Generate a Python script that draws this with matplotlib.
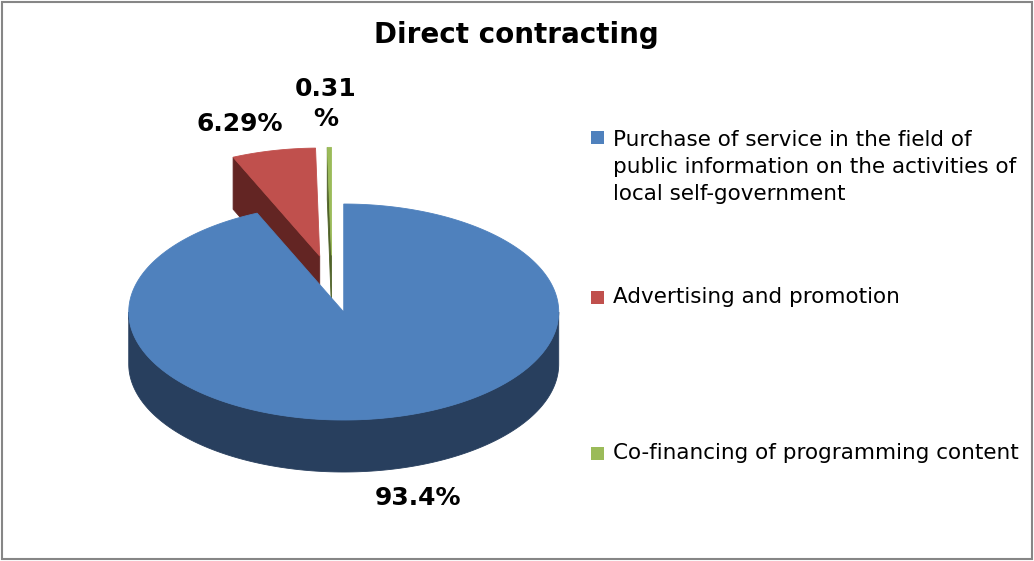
import numpy as np
import matplotlib.pyplot as plt
from matplotlib.patches import Polygon, Rectangle

# Direct contracting, share of spending by purpose (%)
categories = ['Purchase of service in the field of\npublic information on the activities of\nlocal self-government',
              'Advertising and promotion',
              'Co-financing of programming content']
shares = [93.4, 6.29, 0.31]
value_labels = ['93.4%', '6.29%', '0.31\n%']

top_colors = ['#4F81BD', '#C0504D', '#9BBB59']
side_colors = ['#283F5E', '#632523', '#4F6228']

# layout in pixels, y grows downward
W, H = 1034, 561
CX, CY = 332, 284          # centre of the unexploded pie
RX, RY = 215, 108          # ellipse radii of the top face
DEPTH = 52                 # thickness of the pie
EXPLODE = 0.265            # slice offset as a fraction of the radius
label_xy = [(418, 498), (240, 124), (326, 104)]
legend_text_y = [167, 297, 453]
legend_box_y = [137.5, 297, 453]

fig = plt.figure(figsize=(W / 100, H / 100), dpi=100)
ax = fig.add_axes([0, 0, 1, 1])
ax.set_xlim(0, W)
ax.set_ylim(H, 0)
ax.axis('off')


def rim(t, ox, oy, drop=0.0):
    t = np.atleast_1d(t)
    return np.column_stack([CX + ox + RX * np.sin(t), CY + oy - RY * np.cos(t) + drop])


frac = np.array(shares) / np.sum(shares)
edges = np.concatenate([[0.0], np.cumsum(frac)]) * 2 * np.pi

slices = []
for i in range(len(shares)):
    a, b = edges[i], edges[i + 1]
    mid = (a + b) / 2
    ox = EXPLODE * RX * np.sin(mid)
    oy = -EXPLODE * RY * np.cos(mid)
    slices.append((oy, i, a, b, ox))

# paint the slices from back to front
for oy, i, a, b, ox in sorted(slices):
    apex = np.array([[CX + ox, CY + oy]])
    apex_low = apex + [0, DEPTH]
    n = max(3, int(np.degrees(b - a)) + 2)
    kw = dict(closed=True, lw=0.6, zorder=2)

    # radial cut faces facing the viewer
    if np.sin(a) < -1e-9:
        quad = np.vstack([apex, rim(a, ox, oy), rim(a, ox, oy, DEPTH), apex_low])
        ax.add_patch(Polygon(quad, fc=side_colors[i], ec=side_colors[i], **kw))
    if np.sin(b) > 1e-9:
        quad = np.vstack([apex, rim(b, ox, oy), rim(b, ox, oy, DEPTH), apex_low])
        ax.add_patch(Polygon(quad, fc=side_colors[i], ec=side_colors[i], **kw))

    # outer wall on the front half of the ellipse
    lo, hi = max(a, np.pi / 2), min(b, 3 * np.pi / 2)
    if hi > lo:
        t = np.linspace(lo, hi, max(3, int(np.degrees(hi - lo)) + 2))
        wall = np.vstack([rim(t, ox, oy), rim(t[::-1], ox, oy, DEPTH)])
        ax.add_patch(Polygon(wall, fc=side_colors[i], ec=side_colors[i], **kw))

    # top face
    t = np.linspace(a, b, n)
    top = np.vstack([apex, rim(t, ox, oy)])
    ax.add_patch(Polygon(top, fc=top_colors[i], ec=top_colors[i], **kw))

# value labels
for (x, y), txt in zip(label_xy, value_labels):
    ax.text(x, y, txt, ha='center', va='center', fontsize=18, fontweight='bold',
            linespacing=1.3, color='black', zorder=5)

# title
ax.text(516, 35, 'Direct contracting', ha='center', va='center',
        fontsize=20, fontweight='bold', color='black')

# legend
for name, color, ty, by in zip(categories, top_colors, legend_text_y, legend_box_y):
    ax.add_patch(Rectangle((591, by - 6.5), 13, 13, fc=color, ec='none'))
    ax.text(613, ty, name, ha='left', va='center', fontsize=15.5,
            linespacing=1.45, color='black')

# chart border
ax.add_patch(Rectangle((2, 2), W - 4, H - 4, fill=False, ec='#868686', lw=1.5,
                       clip_on=False))

fig.savefig('out.png', dpi=100)
